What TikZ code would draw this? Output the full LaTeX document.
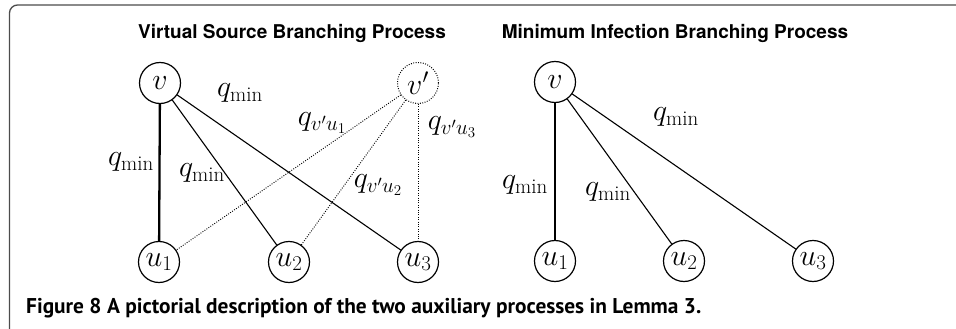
\RequirePackage{fix-cm}
\documentclass[tikz,border=0pt]{standalone}
\usepackage{fontspec}
\newfontfamily\titlefont{TeX Gyre Heros}
\newfontfamily\capfont{PT Sans}
\begin{document}
\begin{tikzpicture}[x=1pt,y=-1pt,
  vtx/.style={circle,draw,line width=1.2pt,minimum size=41pt,inner sep=0pt,font=\fontsize{30}{35}\selectfont},
  vvtx/.style={vtx,line width=1pt,dash pattern=on 0.9pt off 1.5pt},
  lbl/.style={inner sep=0pt,font=\fontsize{30}{35}\selectfont},
  thin edge/.style={line width=1.1pt},
  thick edge/.style={line width=2.3pt},
  dot edge/.style={line width=0.95pt,dash pattern=on 0.9pt off 1.5pt},
  ttl/.style={inner sep=0pt,font=\titlefont\bfseries\fontsize{19}{23}\selectfont}]
\useasboundingbox (0,0) rectangle (956,329);
% frame
\draw[line width=1.3pt,gray!60!black,rounded corners=8pt] (9.5,329) -- (9.5,5) -- (956,5);
% titles
\node[ttl] (t1) at (292,33) {Virtual Source Branching Process};
\node[ttl] (t2) at (675,33) {Minimum Infection Branching Process};
% left panel
\node[vtx] (v) at (160,83) {$v$};
\node[vvtx] (vp) at (418,83) {$v'$};
\node[vtx] (u1) at (159,262) {$u_1$};
\node[vtx] (u2) at (289,262) {$u_2$};
\node[vtx] (u3) at (418,262) {$u_3$};
\draw[thick edge] (v) -- (u1);
\draw[thin edge] (v) -- (u2);
\draw[thin edge] (v) -- (u3);
\draw[dot edge] (vp) -- (u1);
\draw[dot edge] (vp) -- (u2);
\draw[dot edge] (vp) -- (u3);
\node[lbl] (l1) at (240,93) {$q_{\min}$};
\node[lbl] (l2) at (131,162) {$q_{\min}$};
\node[lbl] (l3) at (202,173) {$q_{\min}$};
\node[lbl] (l4) at (322,123) {$q_{v'u_1}$};
\node[lbl] (l5) at (452,127) {$q_{v'u_3}$};
\node[lbl] (l6) at (378,185) {$q_{v'u_2}$};
% right panel
\node[vtx] (w) at (555,82) {$v$};
\node[vtx] (w1) at (555,261) {$u_1$};
\node[vtx] (w2) at (684,261) {$u_2$};
\node[vtx] (w3) at (813,261) {$u_3$};
\draw[thick edge] (w) -- (w1);
\draw[thin edge] (w) -- (w2);
\draw[thin edge] (w) -- (w3);
\node[lbl] (r1) at (676,117) {$q_{\min}$};
\node[lbl] (r2) at (525,185) {$q_{\min}$};
\node[lbl] (r3) at (608,192) {$q_{\min}$};
% caption
\node[anchor=base west,inner sep=0pt] (cap) at (26,313) {\resizebox{675pt}{!}{\capfont\bfseries Figure 8 A pictorial description of the two auxiliary processes in Lemma 3.}};
\end{tikzpicture}
\end{document}
